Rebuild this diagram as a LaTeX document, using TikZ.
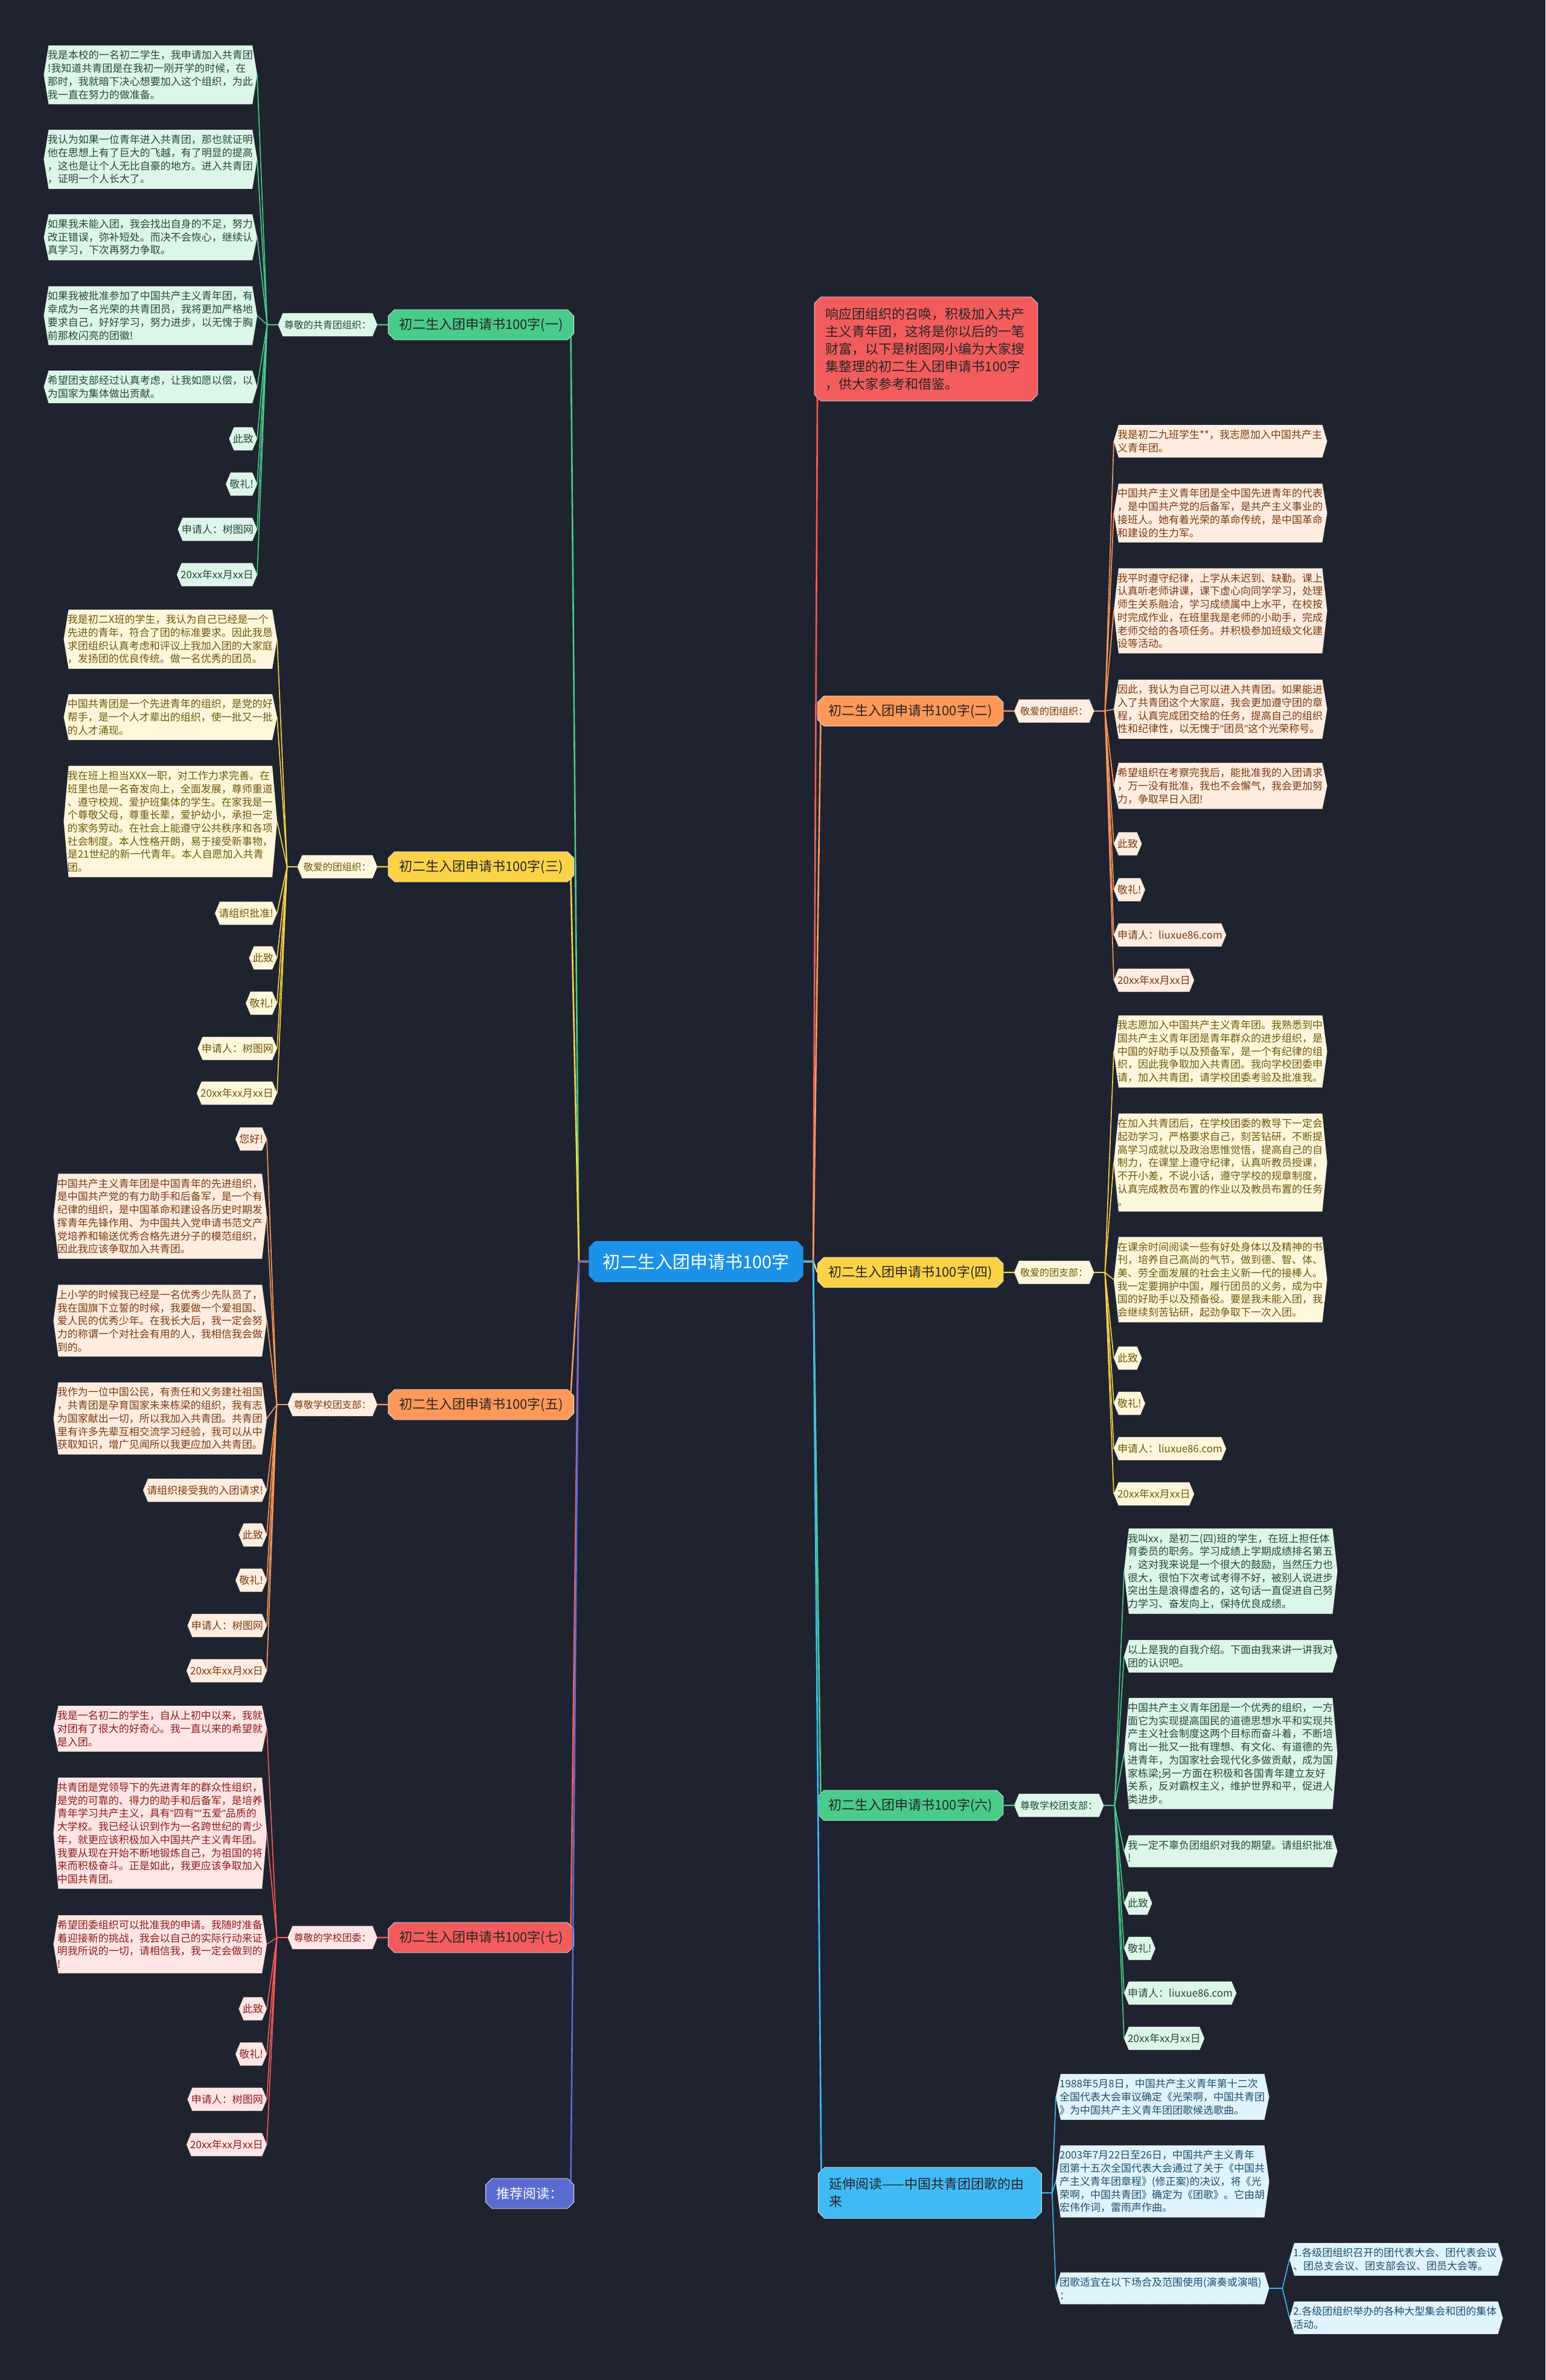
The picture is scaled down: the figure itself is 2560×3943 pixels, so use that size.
\documentclass[tikz,border=0pt]{standalone}
\usepackage{fontspec}
\setmainfont{Noto Sans CJK SC}
\newfontfamily\quotefont{Liberation Sans}
\usepackage{tikz}
\usetikzlibrary{shapes.misc,backgrounds}
\definecolor{nightbg}{RGB}{31,35,48}
\definecolor{rootblue}{RGB}{27,146,232}
\definecolor{darkink}{RGB}{38,36,40}
\definecolor{mint}{RGB}{73,203,138}
\definecolor{mintleaf}{RGB}{221,246,234}
\definecolor{minttext}{RGB}{38,72,56}
\definecolor{sun}{RGB}{252,211,70}
\definecolor{sunleaf}{RGB}{255,247,219}
\definecolor{suntext}{RGB}{110,88,12}
\definecolor{peach}{RGB}{255,152,88}
\definecolor{peachleaf}{RGB}{255,237,223}
\definecolor{peachtext}{RGB}{122,58,18}
\definecolor{coral}{RGB}{243,92,92}
\definecolor{coralleaf}{RGB}{255,229,229}
\definecolor{coraltext}{RGB}{140,28,28}
\definecolor{sky}{RGB}{64,186,245}
\definecolor{skyleaf}{RGB}{223,244,253}
\definecolor{skytext}{RGB}{30,78,108}
\definecolor{indigo}{RGB}{90,108,210}

\begin{document}
\begin{tikzpicture}[x=1pt,y=-1pt,
  topic/.style={chamfered rectangle,chamfered rectangle xsep=7pt,draw=white!80!gray,line width=.8pt,text=darkink,font=\fontsize{22}{29}\selectfont,inner xsep=11pt,minimum height=50pt},
  rootnode/.style={topic,draw=none,fill=rootblue,text=white,font=\fontsize{29}{34}\selectfont,inner xsep=16pt,minimum height=68pt},
  greet/.style={text=#1,font=\fontsize{16}{20}\selectfont,inner xsep=10pt,minimum height=38pt},
  leaf/.style={text=#1,font=\fontsize{17}{21.7}\selectfont,inner xsep=6pt,inner ysep=8pt,minimum height=38pt},
  para/.style={leaf=#1,text width=341pt,align=left},
  trunk/.style={line width=2.6pt},
  twig/.style={line width=2.4pt},
  vein/.style={line width=1.6pt},
  hex/.style={draw=white!70!gray,densely dotted,line width=.5pt},
]
  \useasboundingbox (0,0) rectangle (2560,3943);

  \node[rootnode] (root) at (1153,2090) {初二生入团申请书100字};

  % left side
  \node[topic,fill=mint,anchor=east] (br1) at (951,538) {初二生入团申请书100字(一)};
  \node[topic,fill=sun,anchor=east] (br3) at (951,1436) {初二生入团申请书100字(三)};
  \node[topic,fill=peach,anchor=east] (br5) at (951,2327) {初二生入团申请书100字(五)};
  \node[topic,fill=coral,anchor=east] (br7) at (951,3210) {初二生入团申请书100字(七)};
  \node[topic,fill=indigo,text=white,anchor=east] (rec) at (951,3634) {推荐阅读：};

  % right side
  \node[topic,fill=coral,anchor=north west,text width=332pt,align=left,inner xsep=12pt,inner ysep=14pt] (intro) at (1354,497)
    {响应团组织的召唤，积极加入共产\\主义青年团，这将是你以后的一笔\\财富，以下是树图网小编为大家搜\\集整理的初二生入团申请书100字\\，供大家参考和借鉴。};
  \node[topic,fill=peach,anchor=west] (br2) at (1354,1178) {初二生入团申请书100字(二)};
  \node[topic,fill=sun,anchor=west] (br4) at (1354,2108) {初二生入团申请书100字(四)};
  \node[topic,fill=mint,anchor=west] (br6) at (1354,2991) {初二生入团申请书100字(六)};
  \node[topic,fill=sky,anchor=west,text width=334pt,align=left,inner ysep=14pt] (ext) at (1355,3633)
    {延伸阅读——中国共青团团歌的由\\来};

  % (一)
  \node[greet=minttext,anchor=east] (sub1) at (625,538) {尊敬的共青团组织：};
  \node[para=minttext,anchor=east] (l1a) at (426,124) {我是本校的一名初二学生，我申请加入共青团\\!我知道共青团是在我初一刚开学的时候，在\\那时，我就暗下决心想要加入这个组织，为此\\我一直在努力的做准备。};
  \node[para=minttext,anchor=east] (l1b) at (426,264) {我认为如果一位青年进入共青团，那也就证明\\他在思想上有了巨大的飞越，有了明显的提高\\，这也是让个人无比自豪的地方。进入共青团\\，证明一个人长大了。};
  \node[para=minttext,anchor=east] (l1c) at (426,393) {如果我未能入团，我会找出自身的不足，努力\\改正错误，弥补短处。而决不会恢心，继续认\\真学习，下次再努力争取。};
  \node[para=minttext,anchor=east] (l1d) at (426,523) {如果我被批准参加了中国共产主义青年团，有\\幸成为一名光荣的共青团员，我将更加严格地\\要求自己，好好学习，努力进步，以无愧于胸\\前那枚闪亮的团徽!};
  \node[para=minttext,anchor=east] (l1e) at (426,641) {希望团支部经过认真考虑，让我如愿以偿，以\\为国家为集体做出贡献。};
  \node[leaf=minttext,anchor=east] (l1f) at (426,727) {此致};
  \node[leaf=minttext,anchor=east] (l1g) at (426,802) {敬礼!};
  \node[leaf=minttext,anchor=east] (l1h) at (426,877) {申请人：树图网};
  \node[leaf=minttext,anchor=east] (l1i) at (426,952) {20xx年xx月xx日};

  % (三)
  \node[greet=suntext,anchor=east] (sub3) at (625,1436) {敬爱的团组织：};
  \node[para=suntext,anchor=east] (l3a) at (459,1059) {我是初二X班的学生，我认为自己已经是一个\\先进的青年，符合了团的标准要求。因此我恳\\求团组织认真考虑和评议上我加入团的大家庭\\，发扬团的优良传统。做一名优秀的团员。};
  \node[para=suntext,anchor=east] (l3b) at (459,1188) {中国共青团是一个先进青年的组织，是党的好\\帮手，是一个人才辈出的组织，使一批又一批\\的人才涌现。};
  \node[para=suntext,anchor=east] (l3c) at (459,1361) {我在班上担当XXX一职，对工作力求完善。在\\班里也是一名奋发向上，全面发展，尊师重道\\、遵守校规、爱护班集体的学生。在家我是一\\个尊敬父母，尊重长辈，爱护幼小，承担一定\\的家务劳动。在社会上能遵守公共秩序和各项\\社会制度。本人性格开朗，易于接受新事物，\\是21世纪的新一代青年。本人自愿加入共青\\团。};
  \node[leaf=suntext,anchor=east] (l3d) at (459,1513) {请组织批准!};
  \node[leaf=suntext,anchor=east] (l3e) at (459,1587) {此致};
  \node[leaf=suntext,anchor=east] (l3f) at (459,1662) {敬礼!};
  \node[leaf=suntext,anchor=east] (l3g) at (459,1737) {申请人：树图网};
  \node[leaf=suntext,anchor=east] (l3h) at (459,1811) {20xx年xx月xx日};

  % (五)
  \node[greet=peachtext,anchor=east] (sub5) at (625,2327) {尊敬学校团支部：};
  \node[leaf=peachtext,anchor=east] (l5a) at (442,1887) {您好!};
  \node[para=peachtext,anchor=east] (l5b) at (442,2015) {中国共产主义青年团是中国青年的先进组织，\\是中国共产党的有力助手和后备军，是一个有\\纪律的组织，是中国革命和建设各历史时期发\\挥青年先锋作用、为中国共入党申请书范文产\\党培养和输送优秀合格先进分子的模范组织，\\因此我应该争取加入共青团。};
  \node[para=peachtext,anchor=east] (l5c) at (442,2188) {上小学的时候我已经是一名优秀少先队员了，\\我在国旗下立誓的时候，我要做一个爱祖国、\\爱人民的优秀少年。在我长大后，我一定会努\\力的称谓一个对社会有用的人，我相信我会做\\到的。};
  \node[para=peachtext,anchor=east] (l5d) at (442,2350) {我作为一位中国公民，有责任和义务建社祖国\\，共青团是孕育国家未来栋梁的组织，我有志\\为国家献出一切，所以我加入共青团。共青团\\里有许多先辈互相交流学习经验，我可以从中\\获取知识，增广见闻所以我更应加入共青团。};
  \node[leaf=peachtext,anchor=east] (l5e) at (442,2469) {请组织接受我的入团请求!};
  \node[leaf=peachtext,anchor=east] (l5f) at (442,2543) {此致};
  \node[leaf=peachtext,anchor=east] (l5g) at (442,2618) {敬礼!};
  \node[leaf=peachtext,anchor=east] (l5h) at (442,2693) {申请人：树图网};
  \node[leaf=peachtext,anchor=east] (l5i) at (442,2768) {20xx年xx月xx日};

  % (七)
  \node[greet=coraltext,anchor=east] (sub7) at (625,3210) {尊敬的学校团委：};
  \node[para=coraltext,anchor=east] (l7a) at (442,2864) {我是一名初二的学生，自从上初中以来，我就\\对团有了很大的好奇心。我一直以来的希望就\\是入团。};
  \node[para=coraltext,anchor=east] (l7b) at (442,3037) {共青团是党领导下的先进青年的群众性组织，\\是党的可靠的、得力的助手和后备军，是培养\\青年学习共产主义，具有{\quotefont"}四有{\quotefont""}五爱{\quotefont"}品质的\\大学校。我已经认识到作为一名跨世纪的青少\\年，就更应该积极加入中国共产主义青年团。\\我要从现在开始不断地锻炼自己，为祖国的将\\来而积极奋斗。正是如此，我更应该争取加入\\中国共青团。};
  \node[para=coraltext,anchor=east] (l7c) at (442,3221) {希望团委组织可以批准我的申请。我随时准备\\着迎接新的挑战，我会以自己的实际行动来证\\明我所说的一切，请相信我，我一定会做到的\\!};
  \node[leaf=coraltext,anchor=east] (l7d) at (442,3328) {此致};
  \node[leaf=coraltext,anchor=east] (l7e) at (442,3403) {敬礼!};
  \node[leaf=coraltext,anchor=east] (l7f) at (442,3478) {申请人：树图网};
  \node[leaf=coraltext,anchor=east] (l7g) at (442,3553) {20xx年xx月xx日};

  % (二)
  \node[greet=peachtext,anchor=west] (sub2) at (1680,1178) {敬爱的团组织：};
  \node[para=peachtext,anchor=west] (l2a) at (1845,731) {我是初二九班学生**，我志愿加入中国共产主\\义青年团。};
  \node[para=peachtext,anchor=west] (l2b) at (1845,850) {中国共产主义青年团是全中国先进青年的代表\\，是中国共产党的后备军，是共产主义事业的\\接班人。她有着光荣的革命传统，是中国革命\\和建设的生力军。};
  \node[para=peachtext,anchor=west] (l2c) at (1845,1012) {我平时遵守纪律，上学从未迟到、缺勤。课上\\认真听老师讲课，课下虚心向同学学习，处理\\师生关系融洽，学习成绩属中上水平，在校按\\时完成作业，在班里我是老师的小助手，完成\\老师交给的各项任务。并积极参加班级文化建\\设等活动。};
  \node[para=peachtext,anchor=west] (l2d) at (1845,1175) {因此，我认为自己可以进入共青团。如果能进\\入了共青团这个大家庭，我会更加遵守团的章\\程，认真完成团交给的任务，提高自己的组织\\性和纪律性，以无愧于{\quotefont"}团员{\quotefont"}这个光荣称号。};
  \node[para=peachtext,anchor=west] (l2e) at (1845,1302) {希望组织在考察完我后，能批准我的入团请求\\，万一没有批准，我也不会懈气，我会更加努\\力，争取早日入团!};
  \node[leaf=peachtext,anchor=west] (l2f) at (1845,1398) {此致};
  \node[leaf=peachtext,anchor=west] (l2g) at (1845,1474) {敬礼!};
  \node[leaf=peachtext,anchor=west] (l2h) at (1845,1549) {申请人：liuxue86.com};
  \node[leaf=peachtext,anchor=west] (l2i) at (1845,1624) {20xx年xx月xx日};

  % (四)
  \node[greet=suntext,anchor=west] (sub4) at (1680,2108) {敬爱的团支部：};
  \node[para=suntext,anchor=west] (l4a) at (1845,1742) {我志愿加入中国共产主义青年团。我熟悉到中\\国共产主义青年团是青年群众的进步组织，是\\中国的好助手以及预备军，是一个有纪律的组\\织，因此我争取加入共青团。我向学校团委申\\请，加入共青团，请学校团委考验及批准我。};
  \node[para=suntext,anchor=west] (l4b) at (1845,1926) {在加入共青团后，在学校团委的教导下一定会\\起劲学习，严格要求自己，刻苦钻研，不断提\\高学习成就以及政治思惟觉悟，提高自己的自\\制力，在课堂上遵守纪律，认真听教员授课，\\不开小差，不说小话，遵守学校的规章制度，\\认真完成教员布置的作业以及教员布置的任务\\。};
  \node[para=suntext,anchor=west] (l4c) at (1845,2120) {在课余时间阅读一些有好处身体以及精神的书\\刊，培养自己高尚的气节，做到德、智、体、\\美、劳全面发展的社会主义新一代的接棒人。\\我一定要拥护中国，履行团员的义务，成为中\\国的好助手以及预备役。要是我未能入团，我\\会继续刻苦钻研，起劲争取下一次入团。};
  \node[leaf=suntext,anchor=west] (l4d) at (1845,2250) {此致};
  \node[leaf=suntext,anchor=west] (l4e) at (1845,2325) {敬礼!};
  \node[leaf=suntext,anchor=west] (l4f) at (1845,2400) {申请人：liuxue86.com};
  \node[leaf=suntext,anchor=west] (l4g) at (1845,2475) {20xx年xx月xx日};

  % (六)
  \node[greet=minttext,anchor=west] (sub6) at (1680,2991) {尊敬学校团支部：};
  \node[para=minttext,anchor=west] (l6a) at (1862,2603) {我叫xx，是初二(四)班的学生，在班上担任体\\育委员的职务。学习成绩上学期成绩排名第五\\，这对我来说是一个很大的鼓励，当然压力也\\很大，很怕下次考试考得不好，被别人说进步\\突出生是浪得虚名的，这句话一直促进自己努\\力学习、奋发向上，保持优良成绩。};
  \node[para=minttext,anchor=west] (l6b) at (1862,2744) {以上是我的自我介绍。下面由我来讲一讲我对\\团的认识吧。};
  \node[para=minttext,anchor=west] (l6c) at (1862,2905) {中国共产主义青年团是一个优秀的组织，一方\\面它为实现提高国民的道德思想水平和实现共\\产主义社会制度这两个目标而奋斗着，不断培\\育出一批又一批有理想、有文化、有道德的先\\进青年，为国家社会现代化多做贡献，成为国\\家栋梁;另一方面在积极和各国青年建立友好\\关系，反对霸权主义，维护世界和平，促进人\\类进步。};
  \node[para=minttext,anchor=west] (l6d) at (1862,3067) {我一定不辜负团组织对我的期望。请组织批准\\!};
  \node[leaf=minttext,anchor=west] (l6e) at (1862,3153) {此致};
  \node[leaf=minttext,anchor=west] (l6f) at (1862,3228) {敬礼!};
  \node[leaf=minttext,anchor=west] (l6g) at (1862,3302) {申请人：liuxue86.com};
  \node[leaf=minttext,anchor=west] (l6h) at (1862,3377) {20xx年xx月xx日};

  % further reading
  \node[para=skytext,anchor=west] (l8a) at (1749,3474) {1988年5月8日，中国共产主义青年第十二次\\全国代表大会审议确定《光荣啊，中国共青团\\》为中国共产主义青年团团歌候选歌曲。};
  \node[para=skytext,anchor=west] (l8b) at (1749,3614) {2003年7月22日至26日，中国共产主义青年\\团第十五次全国代表大会通过了关于《中国共\\产主义青年团章程》(修正案)的决议，将《光\\荣啊，中国共青团》确定为《团歌》。它由胡\\宏伟作词，雷雨声作曲。};
  \node[para=skytext,anchor=west] (l8c) at (1749,3791) {团歌适宜在以下场合及范围使用(演奏或演唱)\\：};
  \node[para=skytext,anchor=west] (l8d) at (2136,3743) {1.各级团组织召开的团代表大会、团代表会议\\、团总支会议、团支部会议、团员大会等。};
  \node[para=skytext,anchor=west] (l8e) at (2136,3840) {2.各级团组织举办的各种大型集会和团的集体\\活动。};

  % main connectors
  \coordinate (lt) at ([xshift=-16pt]root.west);
  \coordinate (rt) at ([xshift=16pt]root.east);
  \draw[trunk,mint] (root.west) -- (lt) -- (br1.south east);
  \draw[trunk,sun] (root.west) -- (lt) -- (br3.south east);
  \draw[trunk,peach] (root.west) -- (lt) -- (br5.north east);
  \draw[trunk,coral] (root.west) -- (lt) -- (br7.north east);
  \draw[trunk,indigo] (root.west) -- (lt) -- (rec.north east);
  \draw[trunk,coral] (root.east) -- (rt) -- (intro.south west);
  \draw[trunk,peach] (root.east) -- (rt) -- (br2.south west);
  \draw[trunk,sun] (root.east) -- (rt) -- (br4.west);
  \draw[trunk,mint] (root.east) -- (rt) -- (br6.north west);
  \draw[trunk,sky] (root.east) -- (rt) -- (ext.north west);

  % branch to greeting
  \draw[twig,mint] (br1) -- (sub1);
  \draw[twig,sun] (br3) -- (sub3);
  \draw[twig,peach] (br5) -- (sub5);
  \draw[twig,coral] (br7) -- (sub7);
  \draw[twig,peach] (br2) -- (sub2);
  \draw[twig,sun] (br4) -- (sub4);
  \draw[twig,mint] (br6) -- (sub6);

  % greeting to leaves
  \coordinate (hub1) at ([xshift=-18pt]sub1.west);
  \coordinate (hub3) at ([xshift=-17pt]sub3.west);
  \coordinate (hub5) at ([xshift=-18pt]sub5.west);
  \coordinate (hub7) at ([xshift=-18pt]sub7.west);
  \coordinate (hub2) at ([xshift=18pt]sub2.east);
  \coordinate (hub4) at ([xshift=18pt]sub4.east);
  \coordinate (hub6) at ([xshift=18pt]sub6.east);
  \coordinate (hub8) at ([xshift=17pt]ext.east);
  \coordinate (hub9) at ([xshift=22pt]l8c.east);
  \draw[twig,mint] (sub1.west) -- (hub1);
  \draw[twig,sun] (sub3.west) -- (hub3);
  \draw[twig,peach] (sub5.west) -- (hub5);
  \draw[twig,coral] (sub7.west) -- (hub7);
  \draw[twig,peach] (sub2.east) -- (hub2);
  \draw[twig,sun] (sub4.east) -- (hub4);
  \draw[twig,mint] (sub6.east) -- (hub6);
  \draw[twig,sky] (ext.east) -- (hub8);
  \draw[vein,sky] (l8c.east) -- (hub9);
  \foreach \n in {l1a,l1b,l1c,l1d,l1e,l1f,l1g,l1h,l1i} \draw[vein,mint] (hub1) -- (\n.east);
  \foreach \n in {l3a,l3b,l3c,l3d,l3e,l3f,l3g,l3h} \draw[vein,sun] (hub3) -- (\n.east);
  \foreach \n in {l5a,l5b,l5c,l5d,l5e,l5f,l5g,l5h,l5i} \draw[vein,peach] (hub5) -- (\n.east);
  \foreach \n in {l7a,l7b,l7c,l7d,l7e,l7f,l7g} \draw[vein,coral] (hub7) -- (\n.east);
  \foreach \n in {l2a,l2b,l2c,l2d,l2e,l2f,l2g,l2h,l2i} \draw[vein,peach] (hub2) -- (\n.west);
  \foreach \n in {l4a,l4b,l4c,l4d,l4e,l4f,l4g} \draw[vein,sun] (hub4) -- (\n.west);
  \foreach \n in {l6a,l6b,l6c,l6d,l6e,l6f,l6g,l6h} \draw[vein,mint] (hub6) -- (\n.west);
  \foreach \n in {l8a,l8b,l8c} \draw[vein,sky] (hub8) -- (\n.west);
  \foreach \n in {l8d,l8e} \draw[vein,sky] (hub9) -- (\n.west);

  \begin{scope}[on background layer]
    \fill[nightbg] (0,0) rectangle (2560,3943);
    \foreach \n/\c in {sub1/mintleaf,l1a/mintleaf,l1b/mintleaf,l1c/mintleaf,l1d/mintleaf,l1e/mintleaf,l1f/mintleaf,l1g/mintleaf,l1h/mintleaf,l1i/mintleaf,
      sub6/mintleaf,l6a/mintleaf,l6b/mintleaf,l6c/mintleaf,l6d/mintleaf,l6e/mintleaf,l6f/mintleaf,l6g/mintleaf,l6h/mintleaf,
      sub3/sunleaf,l3a/sunleaf,l3b/sunleaf,l3c/sunleaf,l3d/sunleaf,l3e/sunleaf,l3f/sunleaf,l3g/sunleaf,l3h/sunleaf,
      sub4/sunleaf,l4a/sunleaf,l4b/sunleaf,l4c/sunleaf,l4d/sunleaf,l4e/sunleaf,l4f/sunleaf,l4g/sunleaf,
      sub5/peachleaf,l5a/peachleaf,l5b/peachleaf,l5c/peachleaf,l5d/peachleaf,l5e/peachleaf,l5f/peachleaf,l5g/peachleaf,l5h/peachleaf,l5i/peachleaf,
      sub2/peachleaf,l2a/peachleaf,l2b/peachleaf,l2c/peachleaf,l2d/peachleaf,l2e/peachleaf,l2f/peachleaf,l2g/peachleaf,l2h/peachleaf,l2i/peachleaf,
      sub7/coralleaf,l7a/coralleaf,l7b/coralleaf,l7c/coralleaf,l7d/coralleaf,l7e/coralleaf,l7f/coralleaf,l7g/coralleaf,
      l8a/skyleaf,l8b/skyleaf,l8c/skyleaf,l8d/skyleaf,l8e/skyleaf}
      \filldraw[hex,fill=\c] ([xshift=8pt]\n.north west) -- ([xshift=-8pt]\n.north east) -- (\n.east)
        -- ([xshift=-8pt]\n.south east) -- ([xshift=8pt]\n.south west) -- (\n.west) -- cycle;
  \end{scope}
\end{tikzpicture}
\end{document}
